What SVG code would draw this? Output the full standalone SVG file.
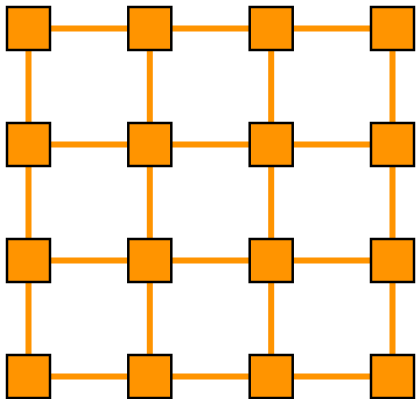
<svg xmlns="http://www.w3.org/2000/svg" width="416" height="399" viewBox="0 0 416 399">
<style>
.e{stroke:#ff9400;stroke-width:6;fill:none}
.n{fill:#ff9400;stroke:#000;stroke-width:2.5}
</style>
<rect width="416" height="399" fill="#fff"/>
<g id="connectors">
<line class="e" x1="28.5" y1="28.5" x2="392.5" y2="28.5"/>
<line class="e" x1="28.5" y1="144.5" x2="392.5" y2="144.5"/>
<line class="e" x1="28.5" y1="260.5" x2="392.5" y2="260.5"/>
<line class="e" x1="28.5" y1="376.5" x2="392.5" y2="376.5"/>
<line class="e" x1="28.5" y1="28.5" x2="28.5" y2="376.5"/>
<line class="e" x1="149.8" y1="28.5" x2="149.8" y2="376.5"/>
<line class="e" x1="271.2" y1="28.5" x2="271.2" y2="376.5"/>
<line class="e" x1="392.5" y1="28.5" x2="392.5" y2="376.5"/>
</g>
<g id="n00"><rect class="n" x="7" y="7" width="43" height="43"/></g>
<g id="n01"><rect class="n" x="128.3" y="7" width="43" height="43"/></g>
<g id="n02"><rect class="n" x="249.7" y="7" width="43" height="43"/></g>
<g id="n03"><rect class="n" x="371" y="7" width="43" height="43"/></g>
<g id="n10"><rect class="n" x="7" y="123" width="43" height="43"/></g>
<g id="n11"><rect class="n" x="128.3" y="123" width="43" height="43"/></g>
<g id="n12"><rect class="n" x="249.7" y="123" width="43" height="43"/></g>
<g id="n13"><rect class="n" x="371" y="123" width="43" height="43"/></g>
<g id="n20"><rect class="n" x="7" y="239" width="43" height="43"/></g>
<g id="n21"><rect class="n" x="128.3" y="239" width="43" height="43"/></g>
<g id="n22"><rect class="n" x="249.7" y="239" width="43" height="43"/></g>
<g id="n23"><rect class="n" x="371" y="239" width="43" height="43"/></g>
<g id="n30"><rect class="n" x="7" y="355" width="43" height="43"/></g>
<g id="n31"><rect class="n" x="128.3" y="355" width="43" height="43"/></g>
<g id="n32"><rect class="n" x="249.7" y="355" width="43" height="43"/></g>
<g id="n33"><rect class="n" x="371" y="355" width="43" height="43"/></g>
</svg>
